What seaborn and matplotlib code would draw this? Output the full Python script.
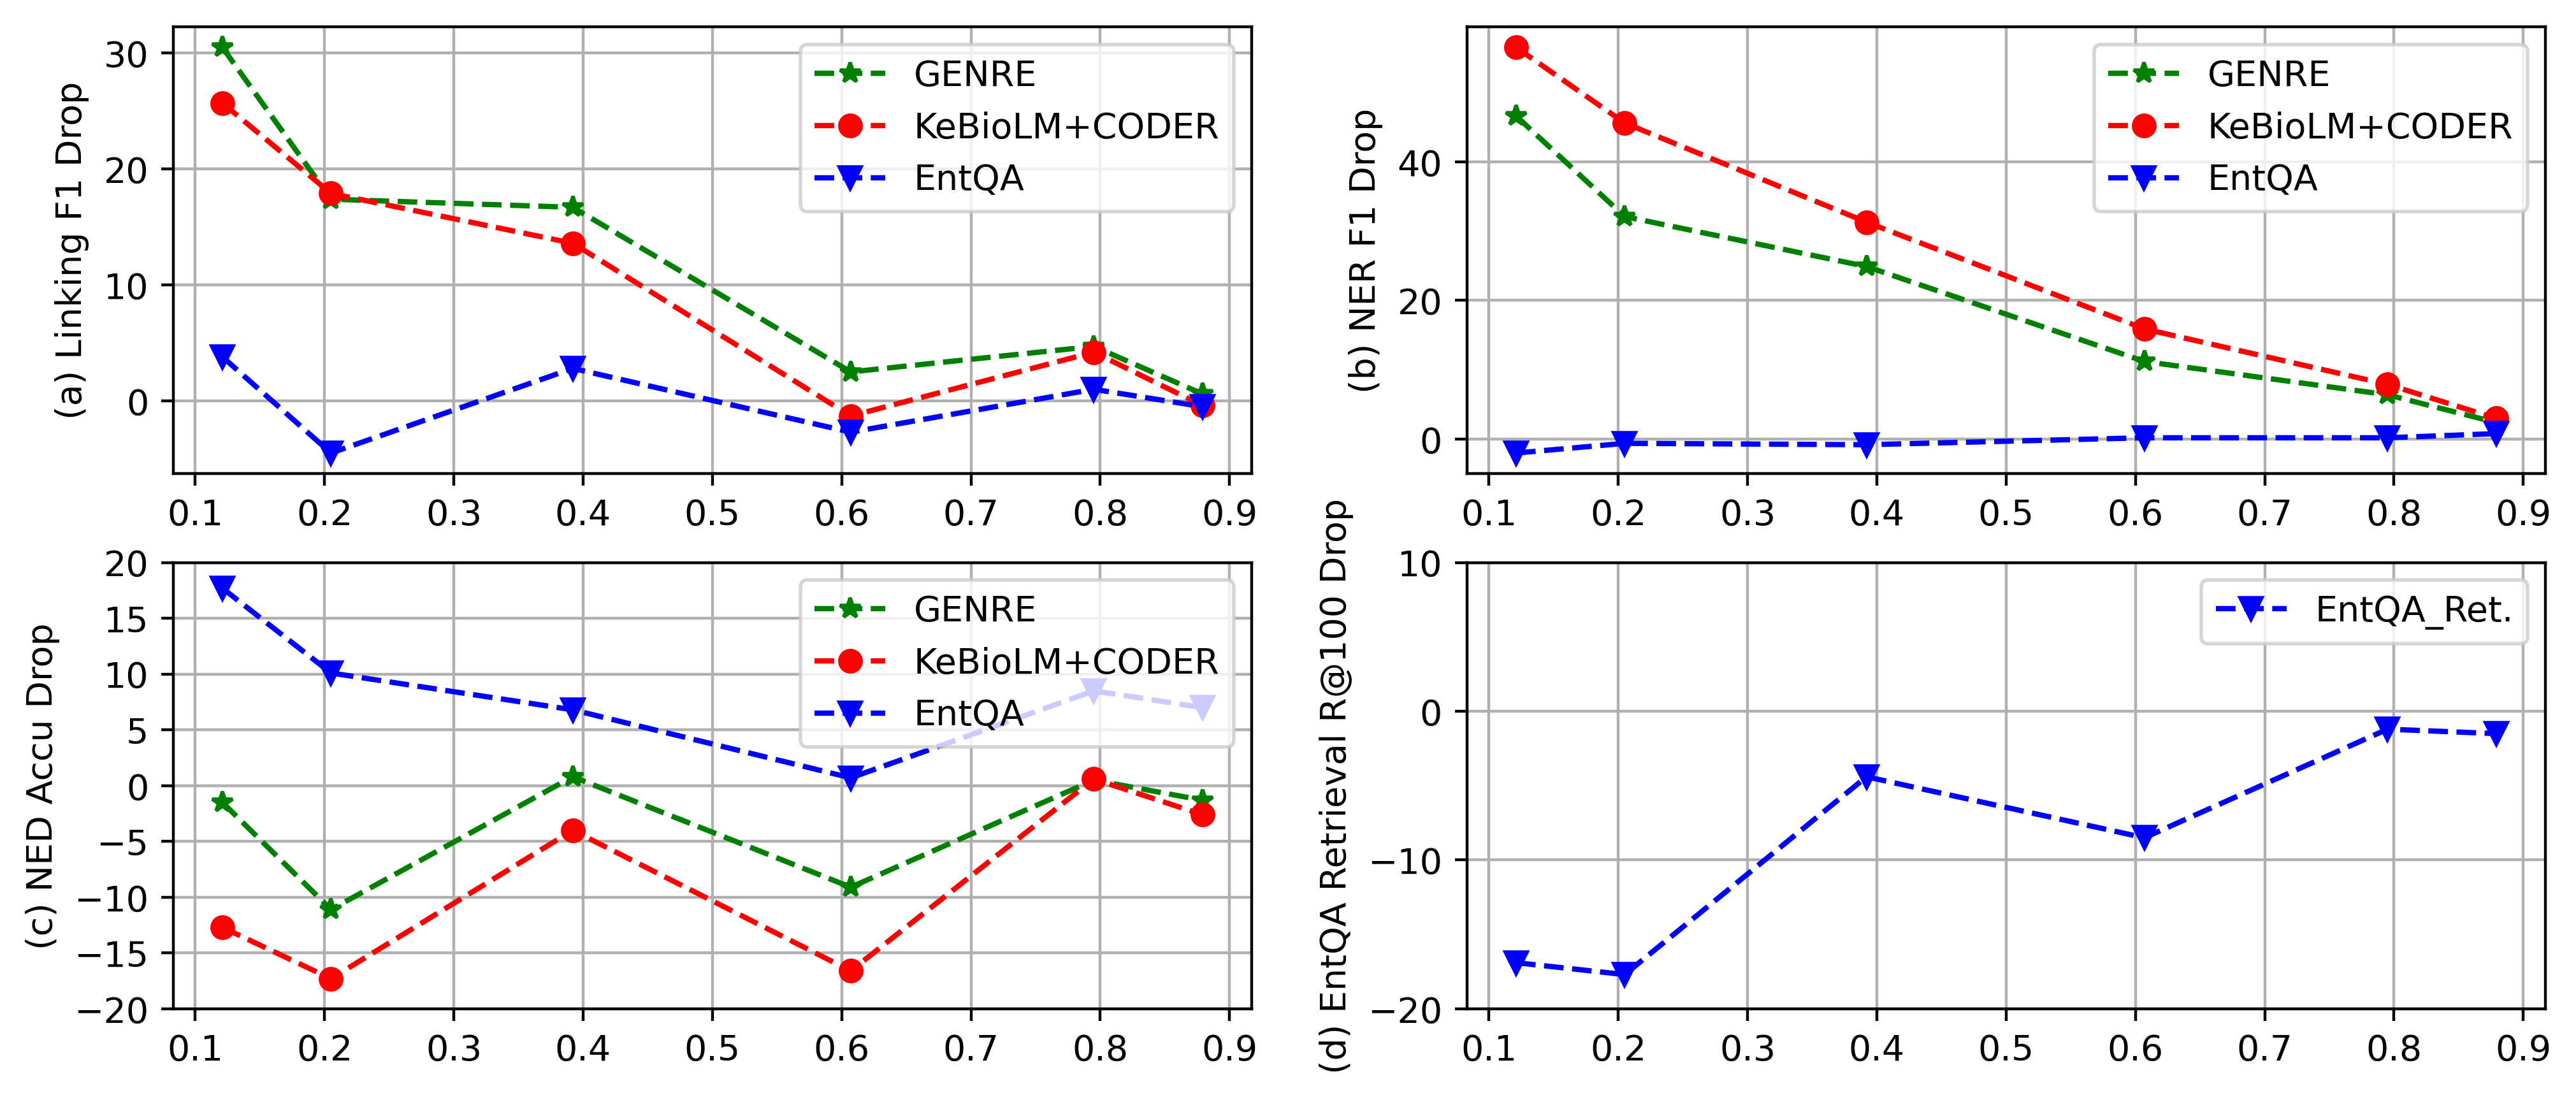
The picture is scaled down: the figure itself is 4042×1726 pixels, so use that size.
import matplotlib
matplotlib.use('Agg')
import matplotlib.pyplot as plt
import seaborn as sns
import pandas as pd

ratios = [0.121, 0.205, 0.392, 0.607, 0.795, 0.879]

linking_genre = [30.5, 17.4, 16.7, 2.5, 4.7, 0.6]
linking_kebio = [25.7, 17.9, 13.6, -1.3, 4.2, -0.4]
linking_entqa = [3.8, -4.5, 2.8, -2.7, 1.0, -0.5]

ner_genre = [46.6, 32.1, 24.9, 11.2, 6.4, 2.4]
ner_kebio = [56.5, 45.6, 31.3, 15.9, 7.9, 3.0]
ner_entqa = [-2.0, -0.6, -0.8, 0.2, 0.2, 0.8]

ned_genre = [-1.5, -11.1, 0.8, -9.1, 0.5, -1.3]
ned_kebio = [-12.7, -17.3, -4.0, -16.6, 0.6, -2.6]
ned_entqa = [17.7, 10.1, 6.8, 0.7, 8.5, 7.0]

ret_entqa = [-16.9, -17.7, -4.4, -8.5, -1.2, -1.5]

STYLES = {
    'GENRE': ('green', '*'),
    'KeBioLM+CODER': ('red', 'o'),
    'EntQA': ('blue', 'v'),
    'EntQA_Ret.': ('blue', 'v'),
}


def draw_panel(ax, series, ylabel):
    for name, values in series:
        color, marker = STYLES[name]
        df = pd.DataFrame({'ratio': ratios, 'drop': values})
        sns.lineplot(data=df, x='ratio', y='drop', ax=ax, sort=False,
                     color=color, marker=marker, linestyle='--',
                     linewidth=1.5, markersize=6, markeredgecolor=color,
                     markeredgewidth=1.0, label=name)
    ax.set_xlabel('')
    ax.set_ylabel(ylabel)
    ax.grid(True)
    ax.legend(loc='upper right')


# 400 dpi, sized so the saved png is 4042 x 1726
fig, axes = plt.subplots(2, 2, figsize=(4042.5 / 400, 1726.5 / 400), dpi=400)

draw_panel(axes[0, 0], [('GENRE', linking_genre), ('KeBioLM+CODER', linking_kebio),
                        ('EntQA', linking_entqa)], '(a) Linking F1 Drop')
draw_panel(axes[0, 1], [('GENRE', ner_genre), ('KeBioLM+CODER', ner_kebio),
                        ('EntQA', ner_entqa)], '(b) NER F1 Drop')
draw_panel(axes[1, 0], [('GENRE', ned_genre), ('KeBioLM+CODER', ned_kebio),
                        ('EntQA', ned_entqa)], '(c) NED Accu Drop')
draw_panel(axes[1, 1], [('EntQA_Ret.', ret_entqa)], '(d) EntQA Retrieval R@100 Drop')

axes[1, 0].set_ylim(-20, 20)
axes[1, 0].set_yticks(range(-20, 21, 5))
axes[1, 1].set_ylim(-20, 10)
axes[1, 1].set_yticks([-20, -10, 0, 10])

for ax in axes.flat:
    ax.set_xticks([0.1, 0.2, 0.3, 0.4, 0.5, 0.6, 0.7, 0.8, 0.9])

plt.subplots_adjust(left=0.0673, right=0.9879, bottom=0.0829, top=0.9751,
                    wspace=0.2, hspace=0.2)
plt.savefig('out.png', dpi=400)
plt.close()
